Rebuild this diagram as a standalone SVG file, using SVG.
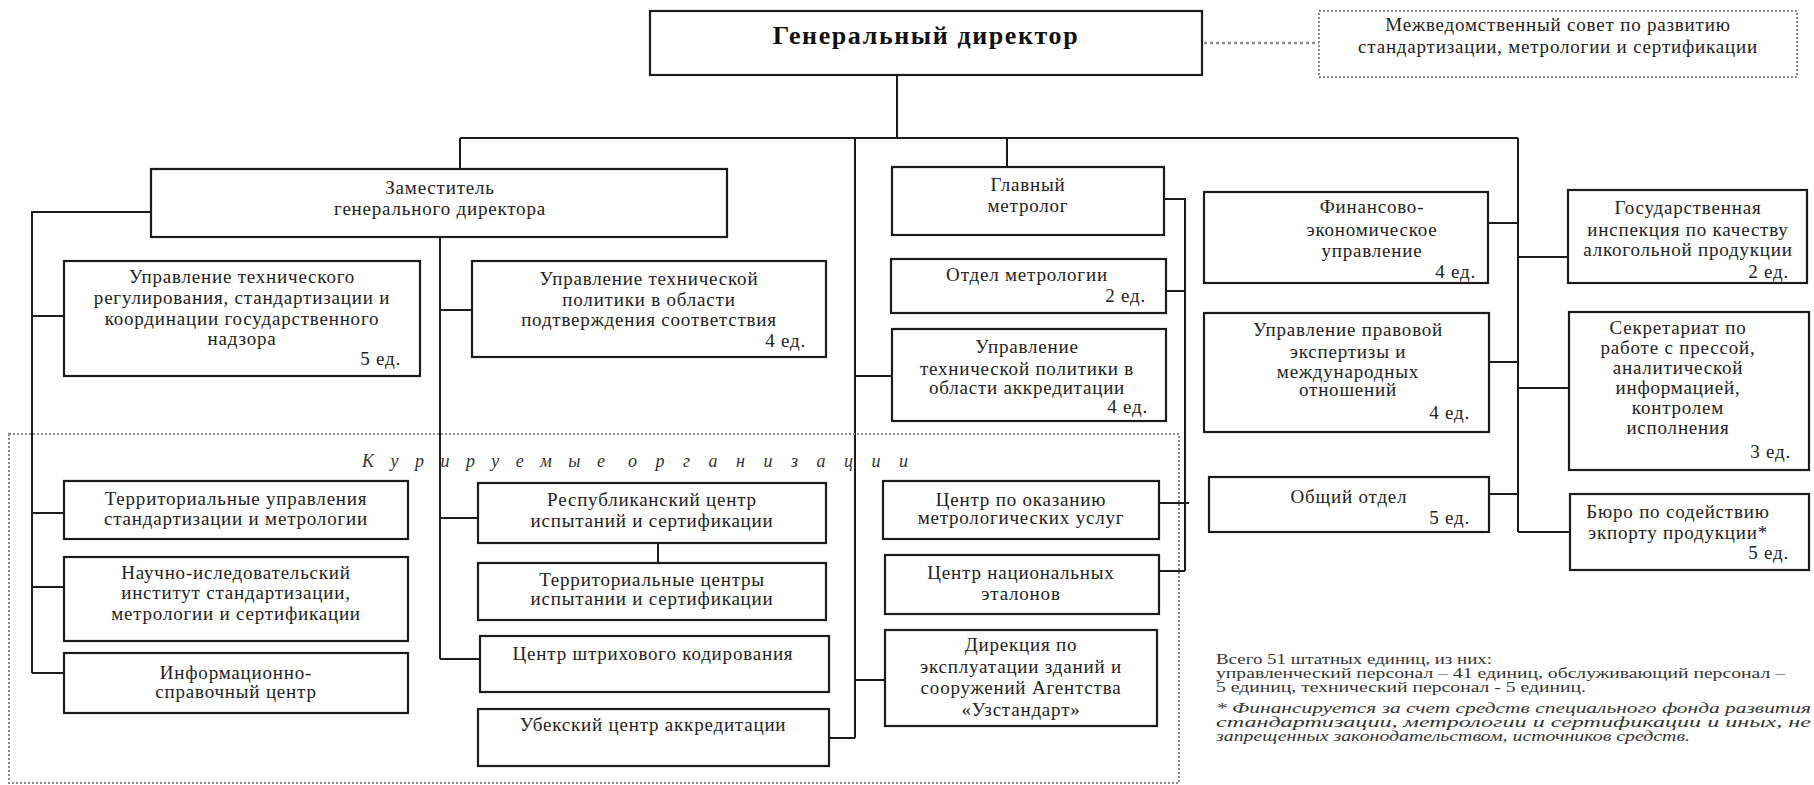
<svg xmlns="http://www.w3.org/2000/svg" width="1814" height="785" viewBox="0 0 1814 785">
<style>
.box{fill:#fff;stroke:#1c1c1c;stroke-width:2.2}
.dotbox{fill:none;stroke:#8c8c8c;stroke-width:2;stroke-dasharray:2 2}
.ln{fill:none;stroke:#1c1c1c;stroke-width:2}
.dl{fill:none;stroke:#8c8c8c;stroke-width:2.5;stroke-dasharray:3 3}
text{font-family:"Liberation Serif","DejaVu Serif","Times New Roman",serif}
.t{font-size:19px;fill:#222;text-anchor:middle;letter-spacing:0.8px}
.r{text-anchor:end}
.gd{font-size:26px;font-weight:bold;fill:#111;text-anchor:middle;letter-spacing:1.6px}
.k{font-size:18px;font-style:italic;fill:#333}
.n{font-size:15px;fill:#333}
.ni{font-size:15px;font-style:italic;fill:#333}
</style>
<rect width="1814" height="785" fill="#fff"/>

<g id="connectors">
<path class="ln" d="M897 75V138M460 138H1518M460 138V169M1007 138V167M855 138V738M1518 138V532"/>
<path class="ln" d="M151 212H32V673M32 316H64M32 513H64M32 587H64M32 673H64"/>
<path class="ln" d="M440 237V659M440 310H472M440 518H478M440 659H480M658 543V563"/>
<path class="ln" d="M855 376H892M855 680H885M829 738H855"/>
<path class="ln" d="M1164 199H1185V571M1166 291H1185M1159 503H1189M1159 571H1185"/>
<path class="ln" d="M1488 223H1518M1518 257H1568M1489 362H1518M1518 388H1569M1489 494H1518M1518 532H1570"/>
<path class="dl" d="M1204 43H1319"/>
</g>

<g id="kuriruemye">
<rect class="dotbox" x="9" y="434" width="1170" height="349"/>
<text class="k" x="362" y="467" textLength="243" lengthAdjust="spacing">К у р и р у е м ы е</text>
<text class="k" x="628" y="467" textLength="280" lengthAdjust="spacing">о р г а н и з а ц и и</text>
</g>

<g id="gd">
<rect class="box" x="650" y="11" width="552" height="64"/>
<text class="gd" x="926" y="44">Генеральный директор</text>
</g>

<g id="mezhved">
<rect class="dotbox" x="1319" y="11" width="478" height="66"/>
<text class="t" x="1558" y="31">Межведомственный совет по развитию</text>
<text class="t" x="1558" y="53">стандартизации, метрологии и сертификации</text>
</g>

<g id="deputy">
<rect class="box" x="151" y="169" width="576" height="68"/>
<text class="t" x="440" y="194">Заместитель</text>
<text class="t" x="440" y="215">генерального директора</text>
</g>

<g id="upr-tech-reg">
<rect class="box" x="64" y="261" width="356" height="115"/>
<text class="t" x="242" y="283">Управление технического</text>
<text class="t" x="242" y="304">регулирования, стандартизации и</text>
<text class="t" x="242" y="325">координации государственного</text>
<text class="t" x="242" y="345">надзора</text>
<text class="t r" x="401" y="365">5 ед.</text>
</g>

<g id="upr-tech-pol-podtv">
<rect class="box" x="472" y="261" width="354" height="96"/>
<text class="t" x="649" y="285">Управление технической</text>
<text class="t" x="649" y="306">политики в области</text>
<text class="t" x="649" y="326">подтверждения соответствия</text>
<text class="t r" x="806" y="347">4 ед.</text>
</g>

<g id="glav-metrolog">
<rect class="box" x="892" y="167" width="272" height="68"/>
<text class="t" x="1028" y="191">Главный</text>
<text class="t" x="1028" y="212">метролог</text>
</g>

<g id="otdel-metrologii">
<rect class="box" x="891" y="259" width="275" height="54"/>
<text class="t" x="1027" y="281">Отдел метрологии</text>
<text class="t r" x="1146" y="302">2 ед.</text>
</g>

<g id="upr-tech-pol-akkr">
<rect class="box" x="892" y="329" width="274" height="92"/>
<text class="t" x="1027" y="353">Управление</text>
<text class="t" x="1027" y="375">технической политики в</text>
<text class="t" x="1027" y="394">области аккредитации</text>
<text class="t r" x="1148" y="413">4 ед.</text>
</g>

<g id="fin-ekon">
<rect class="box" x="1204" y="192" width="284" height="91"/>
<text class="t" x="1372" y="213">Финансово-</text>
<text class="t" x="1372" y="236">экономическое</text>
<text class="t" x="1372" y="257">управление</text>
<text class="t r" x="1476" y="278">4 ед.</text>
</g>

<g id="upr-prav">
<rect class="box" x="1204" y="313" width="285" height="119"/>
<text class="t" x="1348" y="336">Управление правовой</text>
<text class="t" x="1348" y="358">экспертизы и</text>
<text class="t" x="1348" y="378">международных</text>
<text class="t" x="1348" y="396">отношений</text>
<text class="t r" x="1470" y="419">4 ед.</text>
</g>

<g id="obshiy-otdel">
<rect class="box" x="1209" y="477" width="280" height="55"/>
<text class="t" x="1349" y="503">Общий отдел</text>
<text class="t r" x="1470" y="524">5 ед.</text>
</g>

<g id="gos-inspekciya">
<rect class="box" x="1568" y="190" width="239" height="93"/>
<text class="t" x="1688" y="214">Государственная</text>
<text class="t" x="1688" y="236">инспекция по  качеству</text>
<text class="t" x="1688" y="256">алкогольной продукции</text>
<text class="t r" x="1789" y="278">2 ед.</text>
</g>

<g id="sekretariat">
<rect class="box" x="1569" y="312" width="240" height="158"/>
<text class="t" x="1678" y="334">Секретариат по</text>
<text class="t" x="1678" y="354">работе с прессой,</text>
<text class="t" x="1678" y="374">аналитической</text>
<text class="t" x="1678" y="394">информацией,</text>
<text class="t" x="1678" y="414">контролем</text>
<text class="t" x="1678" y="434">исполнения</text>
<text class="t r" x="1791" y="458">3 ед.</text>
</g>

<g id="byuro">
<rect class="box" x="1570" y="494" width="239" height="76"/>
<text class="t" x="1678" y="518">Бюро по содействию</text>
<text class="t" x="1678" y="539">экпорту продукции*</text>
<text class="t r" x="1789" y="559">5 ед.</text>
</g>

<g id="territ-upr">
<rect class="box" x="64" y="481" width="344" height="58"/>
<text class="t" x="236" y="505">Территориальные управления</text>
<text class="t" x="236" y="525">стандартизации и метрологии</text>
</g>

<g id="nii">
<rect class="box" x="64" y="557" width="344" height="84"/>
<text class="t" x="236" y="579">Научно-иследовательский</text>
<text class="t" x="236" y="599">институт стандартизации,</text>
<text class="t" x="236" y="620">метрологии и сертификации</text>
</g>

<g id="info-center">
<rect class="box" x="64" y="653" width="344" height="60"/>
<text class="t" x="236" y="679">Информационно-</text>
<text class="t" x="236" y="698">справочный центр</text>
</g>

<g id="resp-center">
<rect class="box" x="478" y="483" width="348" height="60"/>
<text class="t" x="652" y="506">Республиканский центр</text>
<text class="t" x="652" y="527">испытаний и сертификации</text>
</g>

<g id="territ-centers">
<rect class="box" x="478" y="563" width="348" height="57"/>
<text class="t" x="652" y="586">Территориальные центры</text>
<text class="t" x="652" y="605">испытании и сертификации</text>
</g>

<g id="shtrih">
<rect class="box" x="480" y="636" width="349" height="56"/>
<text class="t" x="653" y="660">Центр штрихового кодирования</text>
</g>

<g id="uzbek-akkr">
<rect class="box" x="478" y="709" width="351" height="57"/>
<text class="t" x="653" y="731">Убекский центр аккредитации</text>
</g>

<g id="center-okazaniyu">
<rect class="box" x="883" y="481" width="276" height="58"/>
<text class="t" x="1021" y="506">Центр по оказанию</text>
<text class="t" x="1021" y="524">метрологических услуг</text>
</g>

<g id="center-etalonov">
<rect class="box" x="885" y="555" width="274" height="59"/>
<text class="t" x="1021" y="579">Центр национальных</text>
<text class="t" x="1021" y="600">эталонов</text>
</g>

<g id="direkciya">
<rect class="box" x="885" y="630" width="272" height="96"/>
<text class="t" x="1021" y="651">Дирекция по</text>
<text class="t" x="1021" y="673">эксплуатации зданий и</text>
<text class="t" x="1021" y="694">сооружений Агентства</text>
<text class="t" x="1021" y="716">«Узстандарт»</text>
</g>

<g id="notes">
<text class="n" x="1216" y="664" textLength="276" lengthAdjust="spacingAndGlyphs">Всего 51 штатных единиц, из них:</text>
<text class="n" x="1216" y="678" textLength="569" lengthAdjust="spacingAndGlyphs">управленческий персонал – 41 единиц, обслуживающий персонал –</text>
<text class="n" x="1216" y="692" textLength="370" lengthAdjust="spacingAndGlyphs">5 единиц, технический персонал - 5 единиц.</text>
<text class="ni" x="1216" y="713" textLength="595" lengthAdjust="spacingAndGlyphs">* Финансируется  за счет средств специального фонда развития</text>
<text class="ni" x="1216" y="727" textLength="595" lengthAdjust="spacingAndGlyphs">стандартизации,  метрологии  и  сертификации  и  иных,  не</text>
<text class="ni" x="1216" y="741" textLength="474" lengthAdjust="spacingAndGlyphs">запрещенных законодательством, источников средств.</text>
</g>
</svg>
